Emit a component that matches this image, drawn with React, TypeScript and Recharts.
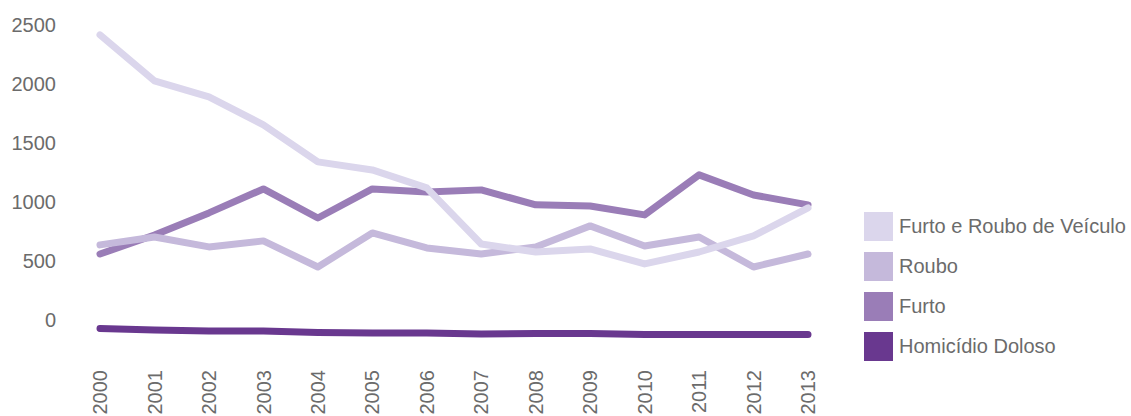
import React from 'react';
import { LineChart, Line, XAxis, YAxis, Legend } from 'recharts';

const years = ['2000','2001','2002','2003','2004','2005','2006','2007','2008','2009','2010','2011','2012','2013'];
const veiculo = [2559, 2169, 2034, 1797, 1483, 1415, 1263, 788, 720, 746, 619, 720, 856, 1093];
const roubo = [780, 847, 763, 814, 593, 881, 754, 703, 763, 941, 771, 847, 593, 703];
const furto = [703, 864, 1051, 1254, 1008, 1254, 1229, 1246, 1119, 1110, 1034, 1373, 1203, 1119];
const homicidio = [72, 59, 51, 51, 38, 34, 34, 25, 30, 30, 21, 21, 21, 21];
const yTicks = [0, 500, 1000, 1500, 2000, 2500];

const seriesInfo = [
  { key: 'veiculo', name: 'Furto e Roubo de Veículo', color: '#dbd6ec' },
  { key: 'roubo', name: 'Roubo', color: '#c5b9db' },
  { key: 'furto', name: 'Furto', color: '#9a7db7' },
  { key: 'homicidio', name: 'Homicídio Doloso', color: '#69388f' },
];

const data = years.map((y, i) => ({
  year: y,
  veiculo: veiculo[i],
  roubo: roubo[i],
  furto: furto[i],
  homicidio: homicidio[i],
}));

const FONT = '"Liberation Sans", Arial, Helvetica, sans-serif';
const TEXT = '#6b6b6b';

const YTick = (props: any) => {
  const { y, payload } = props;
  return (
    <text x={56} y={y - 10} textAnchor="end" fill={TEXT} fontSize={20} fontFamily={FONT}>
      {payload.value}
    </text>
  );
};

const XTick = (props: any) => {
  const { x, payload } = props;
  return (
    <text
      x={x}
      y={370}
      transform={`rotate(-90, ${x}, 370)`}
      textAnchor="end"
      dy="0.36em"
      fill={TEXT}
      fontSize={20}
      fontFamily={FONT}
    >
      {payload.value}
    </text>
  );
};

const renderLegend = () => (
  <div style={{ fontFamily: FONT }}>
    {seriesInfo.map((s) => (
      <div key={s.key} style={{ display: 'flex', alignItems: 'center', height: 40 }}>
        <div style={{ width: 29, height: 29, background: s.color, marginRight: 6 }} />
        <span style={{ fontSize: 20, color: TEXT, lineHeight: '29px', whiteSpace: 'nowrap' }}>{s.name}</span>
      </div>
    ))}
  </div>
);

export default function App() {
  return (
    <div style={{ position: 'fixed', left: 0, top: 0, width: 1131, height: 416, background: '#fff' }}>
      <LineChart width={1131} height={416} data={data} margin={{ top: 30, right: 283, bottom: 0, left: 0 }}>
        <XAxis
          dataKey="year"
          scale="point"
          padding={{ left: 40, right: 40 }}
          axisLine={false}
          tickLine={false}
          height={79}
          tick={<XTick />}
          interval={0}
        />
        <YAxis
          domain={[0, 2600]}
          ticks={yTicks}
          axisLine={false}
          tickLine={false}
          width={60}
          tick={<YTick />}
          allowDataOverflow={false}
        />
        <Legend
          layout="vertical"
          align="center"
          verticalAlign="middle"
          content={renderLegend}
          wrapperStyle={{ left: 864, top: 206, width: 267 }}
        />
        <Line type="linear" dataKey="homicidio" name="Homicídio Doloso" stroke="#69388f" strokeWidth={7} dot={false} strokeLinecap="round" strokeLinejoin="round" isAnimationActive={false} />
        <Line type="linear" dataKey="furto" name="Furto" stroke="#9a7db7" strokeWidth={7} dot={false} strokeLinecap="round" strokeLinejoin="round" isAnimationActive={false} />
        <Line type="linear" dataKey="roubo" name="Roubo" stroke="#c5b9db" strokeWidth={7} dot={false} strokeLinecap="round" strokeLinejoin="round" isAnimationActive={false} />
        <Line type="linear" dataKey="veiculo" name="Furto e Roubo de Veículo" stroke="#dbd6ec" strokeWidth={7} dot={false} strokeLinecap="round" strokeLinejoin="round" isAnimationActive={false} />
      </LineChart>
    </div>
  );
}
